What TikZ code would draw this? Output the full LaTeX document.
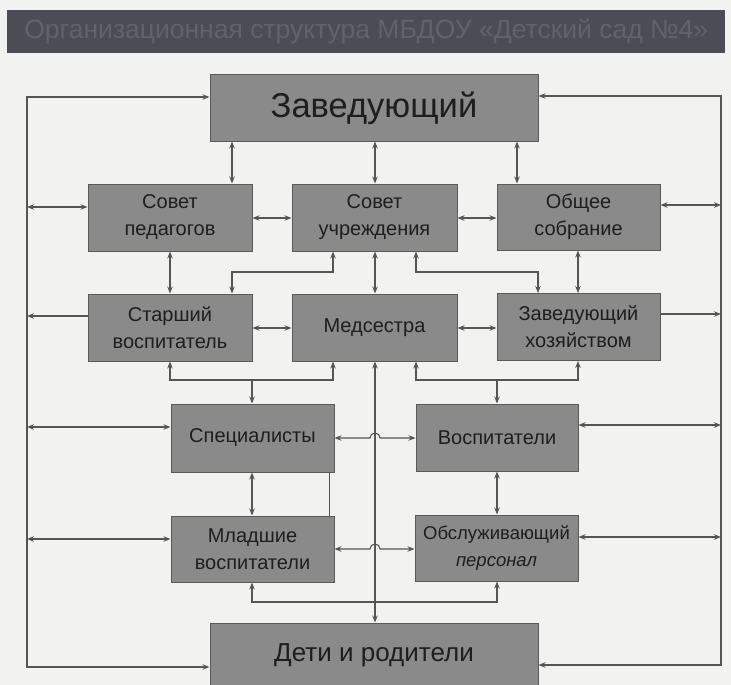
\documentclass[tikz,border=0pt]{standalone}
\usepackage{fontspec}
\setmainfont{Liberation Sans}
\usetikzlibrary{arrows.meta}
\definecolor{bg}{HTML}{F2F2F0}
\definecolor{boxfill}{HTML}{8A8A8A}
\definecolor{boxdraw}{HTML}{5A5A5A}
\definecolor{txt}{HTML}{1E1E1E}
\definecolor{lin}{HTML}{555555}
\definecolor{barfill}{HTML}{4C4C56}
\definecolor{bartxt}{HTML}{626269}
\tikzset{
  box/.style={draw=boxdraw, line width=1pt, fill=boxfill, text=txt, align=center, inner sep=0pt,
    font=\fontsize{20}{27}\selectfont},
  conn/.style={draw=lin, line width=1.1pt, arrows={-}, >={Stealth[length=7pt,width=5.5pt]}},
}
\begin{document}
\begin{tikzpicture}[x=1pt,y=-1pt]
\useasboundingbox (0,0) rectangle (731,685);
\fill[bg] (0,0) rectangle (731,685);
% title bar
\node[fill=barfill, minimum width=718pt, minimum height=43pt, inner sep=0pt, anchor=north west,
  text=bartxt, font=\fontsize{26.5}{28}\selectfont] (title) at (7,10) {Организационная структура МБДОУ «Детский сад №4»};
% boxes
\node[box, minimum width=328pt, minimum height=66pt, font=\fontsize{34.5}{36}\selectfont] (zav) at (374,108) {Заведующий};
\node[box, minimum width=164pt, minimum height=67pt] (sp) at (170,217.5) {Совет\\педагогов};
\node[box, minimum width=165pt, minimum height=67pt] (su) at (374.5,217.5) {Совет\\учреждения};
\node[box, minimum width=163pt, minimum height=66pt] (os) at (578.5,217) {Общее\\собрание};
\node[box, minimum width=164pt, minimum height=67pt] (sv) at (170,327.5) {Старший\\воспитатель};
\node[box, minimum width=165pt, minimum height=67pt] (med) at (374.5,327.5) {Медсестра};
\node[box, minimum width=163pt, minimum height=67pt] (zh) at (578.5,327) {Заведующий\\хозяйством};
\node[box, minimum width=163pt, minimum height=68pt] (spec) at (252.5,438) {Специалисты};
\node[box, minimum width=162pt, minimum height=67pt] (vosp) at (497,437.5) {Воспитатели};
\node[box, minimum width=163pt, minimum height=66pt] (ml) at (252.5,549) {Младшие\\воспитатели};
\node[box, minimum width=163pt, minimum height=66pt, font=\fontsize{18.5}{27}\selectfont] (obs) at (496.5,548) {Обслуживающий\\\textit{персонал}};
\node[box, minimum width=328pt, minimum height=64pt, font=\fontsize{26}{30}\selectfont] (deti) at (374,655) {Дети и родители};
% outer frame lines
\draw[conn,<->] (zav.west |- 0,97) -| (27,667) -- (deti.west |- 0,667);
\draw[conn,<->] (zav.east |- 0,96) -| (721,665) -- (deti.east |- 0,665);
% left side
\draw[conn,<->] (27,207) -- (sp.west |- 0,207);
\draw[conn,->] (sv.west |- 0,316) -- (27,316);
\draw[conn,<->] (27,427) -- (spec.west |- 0,427);
\draw[conn,<->] (27,539) -- (ml.west |- 0,539);
% right side
\draw[conn,<->] (os.east |- 0,205) -- (721,205);
\draw[conn,->] (zh.east |- 0,314) -- (721,314);
\draw[conn,<->] (vosp.east |- 0,425) -- (721,425);
\draw[conn,<->] (obs.east |- 0,537) -- (721,537);
% zav to row 2
\draw[conn,<->] (232,0 |- zav.south) -- (232,0 |- sp.north);
\draw[conn,<->] (375,0 |- zav.south) -- (375,0 |- su.north);
\draw[conn,<->] (517,0 |- zav.south) -- (517,0 |- os.north);
% row 2 horizontal
\draw[conn,<->] (sp.east |- 0,218) -- (su.west |- 0,218);
\draw[conn,<->] (su.east |- 0,218) -- (os.west |- 0,218);
% row 2 to row 3
\draw[conn,<->] (170,0 |- sp.south) -- (170,0 |- sv.north);
\draw[conn,<->] (333,0 |- su.south) |- (232,272) -- (232,0 |- sv.north);
\draw[conn,<->] (375,0 |- su.south) -- (375,0 |- med.north);
\draw[conn,<->] (416,0 |- su.south) |- (538,272) -- (538,0 |- zh.north);
\draw[conn,<->] (578,0 |- os.south) -- (578,0 |- zh.north);
% row 3 horizontal
\draw[conn,<->] (sv.east |- 0,328) -- (med.west |- 0,328);
\draw[conn,<->] (med.east |- 0,328) -- (zh.west |- 0,328);
% row 3 to row 4
\coordinate (jl) at (252,380);
\coordinate (jr) at (497,380);
\draw[conn,<->] (170,0 |- sv.south) |- (333,380) -- (333,0 |- med.south);
\draw[conn,->] (jl) -- (jl |- spec.north);
\draw[conn,<->] (416,0 |- med.south) |- (578,380) -- (578,0 |- zh.south);
\draw[conn,->] (jr) -- (jr |- vosp.north);
% central line
\draw[conn,<->] (375,0 |- med.south) -- (375,0 |- deti.north);
% row 4 horizontal with hop
\draw[conn,<->] (spec.east |- 0,438) -- (370,438) arc[start angle=180,end angle=0,radius=5pt] -- (vosp.west |- 0,438);
% row 4 to row 5
\draw[conn,<->] (252,0 |- spec.south) -- (252,0 |- ml.north);
\draw[conn,<->] (497,0 |- vosp.south) -- (497,0 |- obs.north);
\draw[draw=lin, line width=0.7pt] (329,0 |- spec.south) -- (329,0 |- ml.north);
% row 5 horizontal with hop
\draw[conn,<->] (ml.east |- 0,549) -- (370,549) arc[start angle=180,end angle=0,radius=5pt] -- (obs.west |- 0,549);
% below row 5
\draw[conn,<->] (252,0 |- ml.south) |- (497,602) -- (497,0 |- obs.south);
\end{tikzpicture}
\end{document}
